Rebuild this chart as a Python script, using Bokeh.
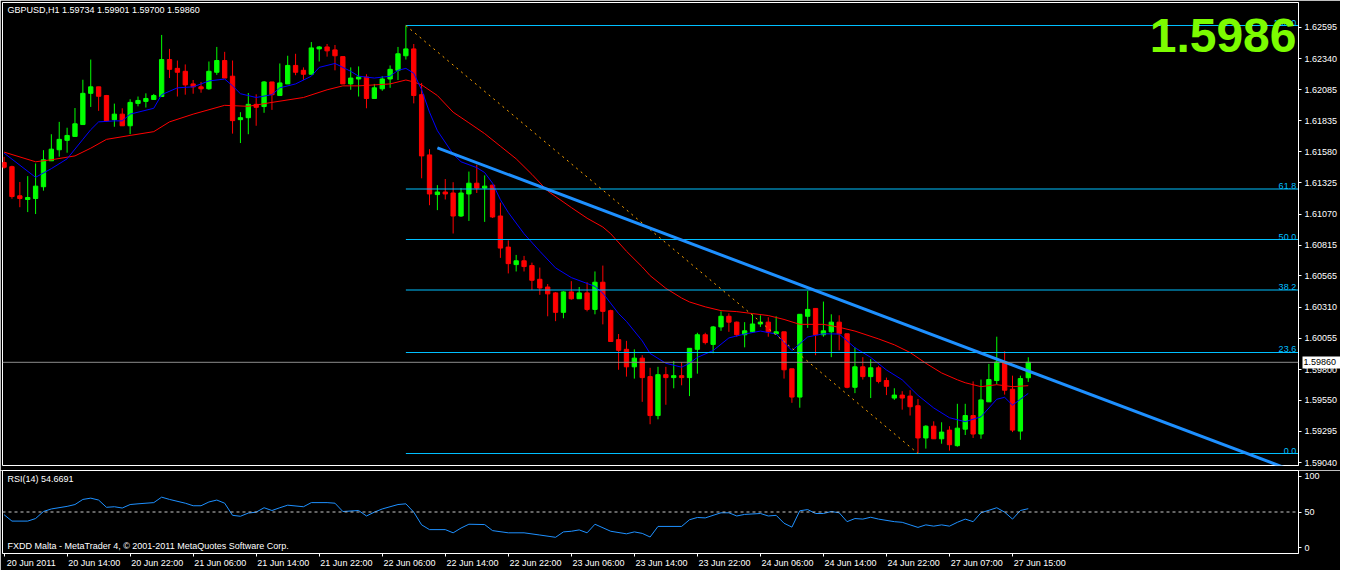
from bokeh.plotting import figure
from bokeh.models import (ColumnDataSource, Range1d, LinearAxis, FixedTicker, Span, Label,
                          PrintfTickFormatter)
from bokeh.layouts import column
from bokeh.core.properties import value
from bokeh.embed import file_html
from bokeh.resources import INLINE

FONT = "Liberation Sans"

# ---------------- data (GBPUSD H1) ----------------
opens = [
    1.61492, 1.61458, 1.61220, 1.61190, 1.61198, 1.61294, 1.61506, 1.61596, 1.61673, 1.61705,
    1.61802, 1.62057, 1.62110, 1.62039, 1.61842, 1.61887, 1.61792, 1.61975, 1.61991, 1.62007,
    1.62031, 1.62333, 1.62261, 1.62237, 1.62134, 1.62110, 1.62094, 1.62229, 1.62325, 1.62197,
    1.61842, 1.61858, 1.61967, 1.61949, 1.62150, 1.62039, 1.62134, 1.62285, 1.62245, 1.62213,
    1.62420, 1.62436, 1.62412, 1.62357, 1.62134, 1.62174, 1.62190, 1.62015, 1.62094, 1.62174,
    1.62245, 1.62364, 1.62420, 1.62046, 1.61554, 1.61230, 1.61251, 1.61243, 1.61055, 1.61235,
    1.61323, 1.61283, 1.61307, 1.61055, 1.60801, 1.60658, 1.60689, 1.60650, 1.60538, 1.60475,
    1.60427, 1.60268, 1.60435, 1.60379, 1.60427, 1.60292, 1.60514, 1.60282, 1.60045, 1.59966,
    1.59823, 1.59894, 1.59743, 1.59425, 1.59759, 1.59735, 1.59751, 1.59735, 1.59966, 1.60085,
    1.60006, 1.60149, 1.60236, 1.60188, 1.60085, 1.60109, 1.60173, 1.60188, 1.60093, 1.60109,
    1.59807, 1.59576, 1.60236, 1.60300, 1.60085, 1.60109, 1.60188, 1.60093, 1.59656, 1.59823,
    1.59743, 1.59815, 1.59711, 1.59568, 1.59592, 1.59584, 1.59505, 1.59242, 1.59338, 1.59235,
    1.59306, 1.59179, 1.59314, 1.59425, 1.59274, 1.59537, 1.59711, 1.59862, 1.59640, 1.59298,
    1.59734]

highs = [
    1.61538, 1.61466, 1.61333, 1.61381, 1.61484, 1.61593, 1.61723, 1.61824, 1.61776, 1.61937,
    1.62168, 1.62333, 1.62110, 1.62044, 1.61973, 1.61935, 1.62009, 1.62031, 1.62057, 1.62052,
    1.62534, 1.62420, 1.62325, 1.62293, 1.62166, 1.62150, 1.62317, 1.62436, 1.62396, 1.62325,
    1.61903, 1.62060, 1.62049, 1.62158, 1.62150, 1.62301, 1.62364, 1.62380, 1.62269, 1.62476,
    1.62444, 1.62460, 1.62452, 1.62357, 1.62269, 1.62277, 1.62213, 1.62134, 1.62197, 1.62285,
    1.62436, 1.62611, 1.62460, 1.62142, 1.61601, 1.61307, 1.61357, 1.61331, 1.61283, 1.61418,
    1.61474, 1.61387, 1.61307, 1.61164, 1.60856, 1.60737, 1.60729, 1.60674, 1.60634, 1.60499,
    1.60433, 1.60441, 1.60523, 1.60475, 1.60514, 1.60602, 1.60650, 1.60290, 1.60091, 1.60035,
    1.59966, 1.59918, 1.59815, 1.59823, 1.59823, 1.59870, 1.59862, 1.59974, 1.60101, 1.60101,
    1.60157, 1.60276, 1.60260, 1.60194, 1.60188, 1.60252, 1.60244, 1.60228, 1.60236, 1.60109,
    1.59807, 1.60252, 1.60443, 1.60300, 1.60356, 1.60252, 1.60244, 1.60093, 1.59982, 1.59902,
    1.59886, 1.59831, 1.59735, 1.59648, 1.59624, 1.59632, 1.59560, 1.59346, 1.59378, 1.59370,
    1.59338, 1.59521, 1.59521, 1.59704, 1.59719, 1.59847, 1.60069, 1.59950, 1.59751, 1.59751,
    1.59901]

lows = [
    1.61442, 1.61196, 1.61127, 1.61087, 1.61071, 1.61262, 1.61506, 1.61540, 1.61572, 1.61705,
    1.61802, 1.61946, 1.61914, 1.61824, 1.61784, 1.61792, 1.61723, 1.61951, 1.61941, 1.62007,
    1.62031, 1.62182, 1.62031, 1.62046, 1.62054, 1.62062, 1.62086, 1.62208, 1.62182, 1.61728,
    1.61651, 1.61723, 1.61792, 1.61898, 1.61922, 1.62039, 1.62134, 1.62205, 1.62166, 1.62213,
    1.62317, 1.62357, 1.62245, 1.62134, 1.62086, 1.62031, 1.61935, 1.62015, 1.62078, 1.62102,
    1.62166, 1.62333, 1.61975, 1.61363, 1.61143, 1.61103, 1.61190, 1.60912, 1.61047, 1.61015,
    1.61243, 1.61007, 1.61039, 1.60713, 1.60586, 1.60602, 1.60602, 1.60451, 1.60411, 1.60236,
    1.60196, 1.60220, 1.60371, 1.60379, 1.60276, 1.60252, 1.60170, 1.60027, 1.59799, 1.59743,
    1.59727, 1.59537, 1.59354, 1.59394, 1.59513, 1.59648, 1.59672, 1.59584, 1.59767, 1.60006,
    1.59934, 1.60117, 1.60109, 1.60069, 1.59982, 1.60101, 1.60149, 1.60069, 1.60093, 1.59727,
    1.59529, 1.59489, 1.60141, 1.59918, 1.60069, 1.59902, 1.59958, 1.59648, 1.59608, 1.59719,
    1.59568, 1.59688, 1.59592, 1.59553, 1.59473, 1.59425, 1.59115, 1.59155, 1.59235, 1.59195,
    1.59139, 1.59171, 1.59266, 1.59242, 1.59235, 1.59537, 1.59680, 1.59596, 1.59290, 1.59227,
    1.59700]

closes = [
    1.61453, 1.61214, 1.61198, 1.61206, 1.61299, 1.61514, 1.61601, 1.61681, 1.61713, 1.61808,
    1.62057, 1.62110, 1.62033, 1.61832, 1.61887, 1.61792, 1.61983, 1.61999, 1.62015, 1.62039,
    1.62333, 1.62253, 1.62229, 1.62126, 1.62110, 1.62094, 1.62237, 1.62325, 1.62182, 1.61834,
    1.61858, 1.61967, 1.61943, 1.62150, 1.62046, 1.62142, 1.62285, 1.62229, 1.62213, 1.62428,
    1.62436, 1.62404, 1.62364, 1.62134, 1.62182, 1.62190, 1.62015, 1.62102, 1.62174, 1.62253,
    1.62380, 1.62420, 1.62039, 1.61546, 1.61235, 1.61251, 1.61235, 1.61055, 1.61243, 1.61323,
    1.61283, 1.61299, 1.61047, 1.60793, 1.60666, 1.60689, 1.60642, 1.60530, 1.60467, 1.60419,
    1.60268, 1.60435, 1.60379, 1.60427, 1.60292, 1.60514, 1.60276, 1.60030, 1.59958, 1.59823,
    1.59894, 1.59735, 1.59425, 1.59759, 1.59735, 1.59751, 1.59735, 1.59974, 1.60085, 1.60021,
    1.60149, 1.60236, 1.60188, 1.60085, 1.60117, 1.60173, 1.60188, 1.60109, 1.60109, 1.59799,
    1.59576, 1.60252, 1.60292, 1.60085, 1.60117, 1.60188, 1.60093, 1.59656, 1.59823, 1.59743,
    1.59815, 1.59704, 1.59664, 1.59592, 1.59568, 1.59497, 1.59242, 1.59338, 1.59235, 1.59290,
    1.59187, 1.59322, 1.59425, 1.59274, 1.59553, 1.59719, 1.59862, 1.59632, 1.59306, 1.59727,
    1.59860]

# fast moving average (blue), sampled at bar indices
ma_fast_bars = [0, 4, 6, 8, 10, 11, 12, 14, 15, 16,
                19, 20, 22, 24, 26, 28, 29, 30, 32, 34,
                35, 37, 39, 40, 42, 44, 45, 47, 49, 50,
                51, 52, 53, 54, 55, 57, 58, 60, 61, 62,
                63, 64, 66, 68, 70, 72, 74, 75, 76, 78,
                79, 81, 82, 84, 86, 87, 88, 90, 92, 94,
                96, 98, 100, 101, 102, 104, 106, 108, 110, 112,
                114, 116, 118, 120, 122, 124, 126, 127, 128, 129,
                130]
ma_fast = [1.61569, 1.61371, 1.61442, 1.61522, 1.61681, 1.61760, 1.61824, 1.61832, 1.61832, 1.61887,
           1.61935, 1.62046, 1.62102, 1.62110, 1.62158, 1.62174, 1.62118, 1.62054, 1.62023, 1.62046,
           1.62102, 1.62134, 1.62197, 1.62269, 1.62301, 1.62237, 1.62197, 1.62182, 1.62197, 1.62245,
           1.62261, 1.62221, 1.62086, 1.61903, 1.61752, 1.61561, 1.61498, 1.61450, 1.61410, 1.61323,
           1.61188, 1.61084, 1.60910, 1.60767, 1.60631, 1.60552, 1.60504, 1.60480, 1.60425, 1.60258,
           1.60194, 1.60035, 1.59932, 1.59852, 1.59820, 1.59852, 1.59900, 1.59956, 1.60059, 1.60091,
           1.60115, 1.60091, 1.59956, 1.60011, 1.60067, 1.60093, 1.60091, 1.59979, 1.59900, 1.59797,
           1.59717, 1.59590, 1.59487, 1.59407, 1.59375, 1.59415, 1.59558, 1.59574, 1.59510, 1.59558,
           1.59606]

# slow moving average (red)
ma_slow_bars = [0, 4, 6, 9, 11, 13, 16, 19, 21, 24,
                28, 31, 34, 38, 41, 43, 45, 49, 51, 52,
                53, 55, 57, 59, 61, 63, 65, 67, 69, 72,
                74, 76, 77, 79, 81, 82, 84, 86, 87, 89,
                91, 93, 95, 97, 99, 101, 104, 106, 108, 111,
                113, 115, 117, 119, 121, 122, 124, 126, 128, 130]
ma_slow = [1.61577, 1.61498, 1.61514, 1.61546, 1.61609, 1.61681, 1.61713, 1.61744, 1.61824, 1.61887,
           1.61959, 1.61951, 1.61983, 1.62023, 1.62086, 1.62118, 1.62118, 1.62134, 1.62166, 1.62150,
           1.62126, 1.62039, 1.61903, 1.61816, 1.61728, 1.61625, 1.61522, 1.61395, 1.61259, 1.61124,
           1.61037, 1.60965, 1.60910, 1.60767, 1.60639, 1.60568, 1.60464, 1.60385, 1.60353, 1.60313,
           1.60282, 1.60274, 1.60258, 1.60242, 1.60210, 1.60170, 1.60170, 1.60146, 1.60115, 1.60051,
           1.60003, 1.59940, 1.59852, 1.59773, 1.59717, 1.59693, 1.59661, 1.59677, 1.59661, 1.59669]

# RSI(14)
rsi_bars = [0, 1, 3, 4, 5, 6, 8, 9, 10, 11,
            12, 13, 14, 15, 16, 17, 19, 20, 21, 23,
            24, 25, 26, 27, 28, 29, 30, 31, 32, 33,
            34, 35, 36, 38, 39, 41, 42, 43, 45, 46,
            47, 48, 50, 51, 52, 53, 54, 56, 57, 58,
            59, 61, 62, 64, 66, 68, 70, 71, 72, 73,
            74, 75, 77, 79, 80, 81, 82, 83, 86, 87,
            88, 89, 91, 92, 93, 94, 96, 97, 98, 99,
            100, 101, 102, 103, 104, 105, 106, 107, 108, 109,
            110, 111, 113, 114, 115, 116, 117, 118, 119, 120,
            121, 122, 123, 124, 126, 127, 128, 129, 130]
rsi_vals = [46.2, 37.2, 37.2, 40.8, 50.7, 54.3, 57.9, 60.5, 67.7, 69.5,
            66.8, 56.6, 57.4, 55.6, 60.5, 61.5, 63.2, 70.9, 67.7, 62.4,
            58.8, 58.8, 64.1, 66.8, 62.4, 45.3, 44.0, 48.5, 49.8, 56.0,
            52.1, 56.0, 59.6, 57.4, 63.2, 63.2, 62.4, 50.7, 52.1, 44.4,
            49.8, 54.3, 60.5, 61.5, 49.8, 31.9, 25.2, 25.2, 20.7, 27.4,
            32.8, 32.3, 23.8, 20.7, 20.7, 17.6, 14.4, 22.0, 22.9, 24.8,
            20.7, 32.8, 22.9, 19.3, 22.0, 19.9, 14.8, 29.7, 29.7, 39.1,
            42.3, 41.7, 48.9, 48.9, 44.4, 46.6, 47.9, 44.4, 45.3, 34.2,
            28.7, 51.7, 53.4, 47.9, 47.9, 50.7, 48.9, 36.4, 40.8, 40.0,
            42.6, 40.0, 36.4, 35.5, 31.9, 28.3, 31.9, 30.1, 31.9, 30.1,
            35.5, 40.0, 36.4, 48.9, 56.0, 49.8, 40.0, 52.1, 54.6691]

# time axis labels, every 8 bars
time_tick_bars = [0, 8, 16, 24, 32, 40, 48, 56, 64, 72, 80, 88, 96, 104, 112, 120, 128]
time_labels = ["20 Jun 2011", "20 Jun 14:00", "20 Jun 22:00", "21 Jun 06:00", "21 Jun 14:00",
               "21 Jun 22:00", "22 Jun 06:00", "22 Jun 14:00", "22 Jun 22:00", "23 Jun 06:00",
               "23 Jun 14:00", "23 Jun 22:00", "24 Jun 06:00", "24 Jun 14:00", "24 Jun 22:00",
               "27 Jun 07:00", "27 Jun 15:00"]

price_ticks = [1.59040, 1.59295, 1.59550, 1.59800, 1.60055, 1.60310, 1.60565, 1.60815,
               1.61070, 1.61325, 1.61580, 1.61835, 1.62085, 1.62340, 1.62595]

# Fibonacci retracement anchored on bar 51 high and bar 116 low
fib_anchor_bars = [51, 116]
fib_ratios = [1.0, 0.618, 0.5, 0.382, 0.236, 0.0]
fib_labels = ["100.0", "61.8", "50.0", "38.2", "23.6", "0.0"]

# hand-drawn trend line anchors
trend_bars = [55, 165]
trend_prices = [1.61612, 1.58939]

# ---------------- figure ----------------
W = 1340
BL, BR = 2, 40            # left / right borders (px)
X0, X1 = -0.2, 164.3
x_range = Range1d(X0, X1)
BG = "#000000"
WHITE = "#FFFFFF"

n = len(closes)
bars = list(range(n))
cols = ["#00FF00" if c >= o else "#FF0000" for o, c in zip(opens, closes)]
src = ColumnDataSource(dict(
    x=bars, high=highs, low=lows,
    top=[max(o, c) for o, c in zip(opens, closes)],
    bottom=[min(o, c) for o, c in zip(opens, closes)],
    color=cols))

p = figure(width=W, height=470, x_range=x_range, y_range=Range1d(1.59017, 1.62799),
           output_backend="svg", toolbar_location=None, tools="", title=None,
           x_axis_location=None, y_axis_location="right",
           min_border_left=BL, min_border_right=BR, min_border_top=2, min_border_bottom=5,
           background_fill_color=BG, border_fill_color=BG, outline_line_color=WHITE)
p.grid.visible = False
ya = p.yaxis[0]
ya.ticker = FixedTicker(ticks=price_ticks)
ya.formatter = PrintfTickFormatter(format="%.5f")
ya.major_label_text_color = WHITE
ya.major_label_text_font = FONT
ya.major_label_text_font_size = "9px"
ya.major_label_standoff = 3
ya.major_tick_out = 3
ya.major_tick_in = 0
ya.major_tick_line_color = WHITE
ya.minor_tick_line_color = None
ya.axis_line_color = WHITE

# bid price marker on the price scale: an outer right axis whose inward (wide, white)
# tick forms the box and whose label (pulled back by a negative standoff) is the price
bid_axis = LinearAxis(ticker=FixedTicker(ticks=[closes[-1]]),
                      formatter=PrintfTickFormatter(format="%.5f"),
                      major_label_text_color="#000000", major_label_text_font=FONT,
                      major_label_text_font_size="9px", major_label_standoff=-37,
                      major_tick_in=38, major_tick_out=0, major_tick_line_color=WHITE,
                      major_tick_line_width=12, minor_tick_line_color=None,
                      axis_line_color=None)
p.add_layout(bid_axis, "right")

# candles
p.segment(x0="x", y0="low", x1="x", y1="high", line_color="color", line_width=1, source=src)
p.vbar(x="x", width=0.55, top="top", bottom="bottom", fill_color="color",
       line_color="color", line_width=1, source=src)

# moving averages
p.line(ma_slow_bars, ma_slow, line_color="#FF0000", line_width=1)
p.line(ma_fast_bars, ma_fast, line_color="#0000FF", line_width=1)

# fibonacci
fib_hi = highs[fib_anchor_bars[0]]
fib_lo = lows[fib_anchor_bars[1]]
fib_levels = [fib_lo + r * (fib_hi - fib_lo) for r in fib_ratios]
p.segment(x0=[fib_anchor_bars[0]] * len(fib_levels), y0=fib_levels,
          x1=[X1 + 5] * len(fib_levels), y1=fib_levels, line_color="#00BFFF", line_width=1.2)
p.text(x=[X1 - 0.3] * len(fib_levels), y=fib_levels, text=fib_labels,
       text_align="right", text_baseline="bottom", text_color="#00BFFF",
       text_font=value(FONT), text_font_size="9px")
p.line(fib_anchor_bars, [fib_hi, fib_lo], line_color="#FFA500", line_width=1, line_dash="2 4")

# trend line
p.line(trend_bars, trend_prices, line_color="#1E90FF", line_width=3)

# bid line
p.add_layout(Span(location=closes[-1], dimension="width", line_color="#8C8C8C", line_width=1))

# texts
p.add_layout(Label(x=X0, y=1.62738, x_offset=5,
                   text=f"GBPUSD,H1  {opens[-1]:.5f} {highs[-1]:.5f} {lows[-1]:.5f} {closes[-1]:.5f}",
                   text_color=WHITE, text_font=FONT, text_font_size="9px", text_baseline="middle"))
p.add_layout(Label(x=X1, y=1.62531, x_offset=-2, text=f"{closes[-1]:.4f}",
                   text_color="#7CFC00", text_font=FONT, text_font_style="bold",
                   text_font_size="48px", text_align="right", text_baseline="middle"))

# ---------------- RSI panel ----------------
r = figure(width=W, height=100, x_range=x_range, y_range=Range1d(-8.4, 108.4),
           output_backend="svg", toolbar_location=None, tools="", title=None,
           x_axis_location=None, y_axis_location="right",
           min_border_left=BL, min_border_right=BR, min_border_top=0, min_border_bottom=0,
           background_fill_color=BG, border_fill_color=BG, outline_line_color=WHITE)
r.grid.visible = False
ra = r.yaxis[0]
ra.ticker = FixedTicker(ticks=[0, 50, 100])
ra.major_label_text_color = WHITE
ra.major_label_text_font = FONT
ra.major_label_text_font_size = "9px"
ra.major_label_standoff = 3
ra.major_tick_out = 3
ra.major_tick_in = 0
ra.major_tick_line_color = WHITE
ra.minor_tick_line_color = None
ra.axis_line_color = WHITE

r.add_layout(Span(location=50, dimension="width", line_color="#C8C8C8", line_width=1,
                  line_dash="3 3"))
r.line(rsi_bars, rsi_vals, line_color="#1E90FF", line_width=1)

r.add_layout(Label(x=X0, y=96.4, x_offset=5, text=f"RSI(14) {rsi_vals[-1]:.4f}",
                   text_color=WHITE, text_font=FONT, text_font_size="9px", text_baseline="middle"))
r.add_layout(Label(x=X0, y=2.3, x_offset=5,
                   text="FXDD Malta - MetaTrader 4, \u00a9 2001-2011 MetaQuotes Software Corp.",
                   text_color=WHITE, text_font=FONT, text_font_size="9px", text_baseline="middle"))

# time axis: tick marks at bar positions, labels to the right of each tick
ax_ticks = LinearAxis(ticker=FixedTicker(ticks=time_tick_bars),
                      major_label_overrides={t: "" for t in time_tick_bars},
                      major_label_text_font_size="1px", major_label_standoff=0,
                      major_tick_out=3, major_tick_in=0, major_tick_line_color=WHITE,
                      minor_tick_line_color=None, axis_line_color=None)
label_pos = [t + 3.45 for t in time_tick_bars]
ax_labels = LinearAxis(ticker=FixedTicker(ticks=label_pos),
                       major_label_overrides=dict(zip(label_pos, time_labels)),
                       major_label_text_color=WHITE, major_label_text_font=FONT,
                       major_label_text_font_size="9px", major_label_standoff=1,
                       major_tick_out=0, major_tick_in=0, major_tick_line_color=None,
                       minor_tick_line_color=None, axis_line_color=None)
r.add_layout(ax_ticks, "below")
r.add_layout(ax_labels, "below")

layout = column(p, r, spacing=0)
open("out.html", "w", encoding="utf-8").write(file_html(layout, INLINE))
